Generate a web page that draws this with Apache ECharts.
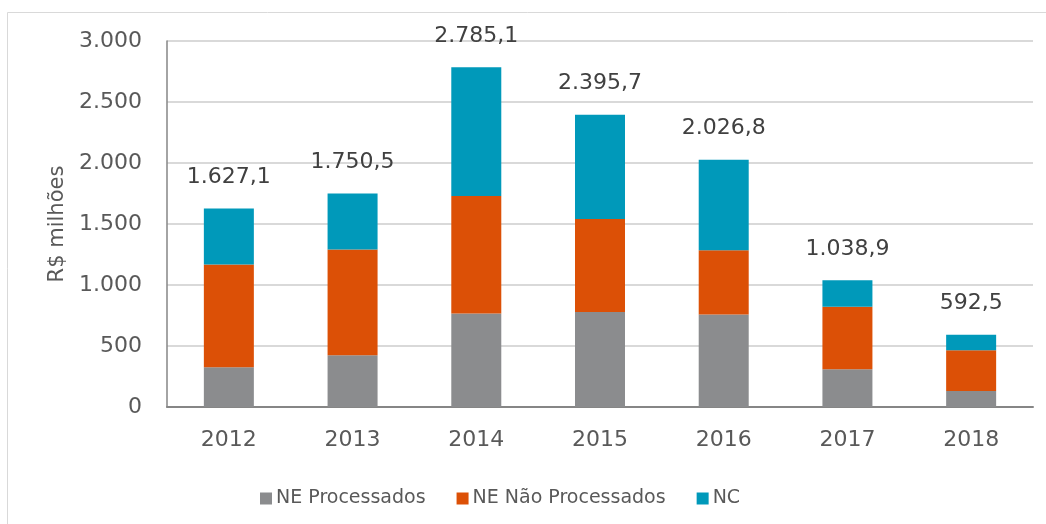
<!DOCTYPE html>
<html>
<head>
<meta charset="utf-8">
<script src="https://cdn.jsdelivr.net/npm/echarts@6/dist/echarts.min.js"></script>
<style>
html,body{margin:0;padding:0;background:#fff;}
#chart{width:1046px;height:524px;}
</style>
</head>
<body>
<div id="chart"></div>
<script>
const categories = ['2012', '2013', '2014', '2015', '2016', '2017', '2018'];
const neProcessados = [326, 425, 767, 778, 759, 310, 131];
const neNaoProcessados = [843, 867, 963, 763, 525, 511, 335];
const nc = [458, 458.5, 1055, 855, 743, 218, 126.5];
const totals = [1627.1, 1750.5, 2785.1, 2395.7, 2026.8, 1038.9, 592.5];
const seriesNames = ['NE Processados', 'NE Não Processados', 'NC'];
const yTicks = { min: 0, max: 3000, interval: 500 };

function fmtThousands(v) {
  return String(Math.round(v)).replace(/\B(?=(\d{3})+(?!\d))/g, '.');
}
function fmtTotal(v) {
  const parts = v.toFixed(1).split('.');
  return parts[0].replace(/\B(?=(\d{3})+(?!\d))/g, '.') + ',' + parts[1];
}

const FONT = 'DejaVu Sans';
const TXT = '#595959';
const chart = echarts.init(document.getElementById('chart'), null, { renderer: 'canvas' });
chart.setOption({
  animation: false,
  backgroundColor: '#ffffff',
  textStyle: { fontFamily: FONT },
  graphic: [{
    type: 'rect',
    shape: { x: 7.5, y: 12.5, width: 1200, height: 700 },
    style: { fill: 'none', stroke: '#d9d9d9', lineWidth: 1 },
    silent: true
  }],
  grid: { left: 167, right: 13, top: 41, bottom: 117 },
  legend: {
    data: seriesNames,
    left: 255,
    top: 484,
    itemWidth: 12,
    itemHeight: 12,
    itemGap: 31,
    icon: 'rect',
    textStyle: { fontFamily: FONT, fontSize: 19, color: TXT, padding: [0, 0, 0, -1] }
  },
  xAxis: {
    type: 'category',
    data: categories,
    axisLine: { show: true, lineStyle: { color: '#868686', width: 2 } },
    axisTick: { show: false },
    axisLabel: { fontFamily: FONT, fontSize: 22, color: TXT, margin: 22 }
  },
  yAxis: {
    type: 'value',
    min: yTicks.min,
    max: yTicks.max,
    interval: yTicks.interval,
    name: 'R$ milhões',
    nameLocation: 'middle',
    nameGap: 97,
    nameTextStyle: { fontFamily: FONT, fontSize: 21, color: TXT },
    axisLine: { show: true, lineStyle: { color: '#868686', width: 1.5 } },
    axisTick: { show: false },
    splitLine: { show: true, lineStyle: { color: '#d9d9d9', width: 2 } },
    axisLabel: { fontFamily: FONT, fontSize: 22, color: TXT, margin: 25, formatter: v => fmtThousands(v) }
  },
  series: [
    {
      name: seriesNames[0], type: 'bar', stack: 'total', data: neProcessados,
      barWidth: 50, itemStyle: { color: '#8b8c8e' }
    },
    {
      name: seriesNames[1], type: 'bar', stack: 'total', data: neNaoProcessados,
      barWidth: 50, itemStyle: { color: '#dc5006' }
    },
    {
      name: seriesNames[2], type: 'bar', stack: 'total', data: nc,
      barWidth: 50, itemStyle: { color: '#0099ba' },
      label: {
        show: true, position: 'top', distance: 20,
        fontFamily: FONT, fontSize: 22, color: '#404040',
        formatter: p => fmtTotal(totals[p.dataIndex])
      }
    }
  ]
});
</script>
</body>
</html>
